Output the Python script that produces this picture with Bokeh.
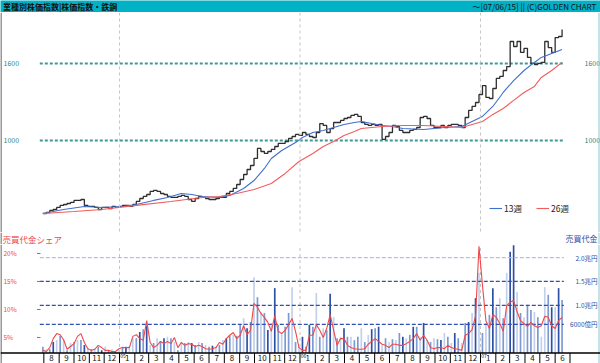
import pandas as pd
from bokeh.plotting import figure
from bokeh.layouts import column
from bokeh.models import Range1d, Span, Legend, LegendItem, ColumnDataSource
from bokeh.core.properties import value
from bokeh.embed import file_html
from bokeh.resources import INLINE

FONT = "Noto Sans CJK JP"

# ---------------- data ----------------
title_left = "業種別株価指数|株価指数・鉄鋼"
title_right = "〜[07/06/15] || (C)GOLDEN CHART"
share_title = "売買代金シェア"
turnover_title = "売買代金"

first_week = "2004-07-30"   # weekly closes (Fridays) up to 2007-06-15

price = [431, 439, 455, 462, 478, 494, 501, 509, 517, 533,
         533, 540, 494, 486, 486, 478, 462, 478, 478, 470,
         486, 478, 486, 494, 494, 486, 501, 525, 548, 564,
         579, 603, 611, 603, 587, 579, 564, 556, 556, 564,
         572, 564, 540, 525, 548, 564, 556, 548, 540, 540, 548,
         556, 556, 587, 603, 626, 657, 696, 735, 774, 805,
         860, 938, 914, 899, 914, 930, 953, 977, 977, 992,
         1016, 1031, 1047, 1039, 1062, 1047, 1031, 1023, 1062, 1132,
         1117, 1062, 1093, 1140, 1140, 1156, 1171, 1179, 1195, 1203,
         1187, 1140, 1125, 1117, 1125, 1117, 1125, 1008, 1031, 1062,
         1117, 1109, 1078, 1062, 1062, 1078, 1086, 1101, 1179, 1187,
         1171, 1117, 1101, 1101, 1117, 1101, 1117, 1125, 1125, 1117,
         1101, 1179, 1234, 1265, 1296, 1358, 1428, 1335, 1327, 1405,
         1483, 1499, 1545, 1576, 1771, 1732, 1771, 1686, 1717, 1647,
         1600, 1592, 1600, 1608, 1771, 1724, 1686, 1802, 1810, 1865]

ma13_week = [0, 6, 12, 17, 23, 27, 32, 36, 40, 43, 46, 51, 54, 58, 61, 64, 66, 69,
             73, 75, 78, 81, 84, 87, 90, 92, 95, 98, 101, 104, 110, 116, 121, 124,
             127, 130, 133, 136, 139, 142, 144, 147, 150]
ma13_val = [431, 462, 486, 478, 486, 501, 533, 556, 587, 579, 564, 556, 572, 626,
            688, 782, 860, 922, 984, 1023, 1062, 1078, 1101, 1125, 1140, 1148, 1132,
            1117, 1109, 1093, 1086, 1101, 1109, 1148, 1187, 1265, 1374, 1467, 1545,
            1608, 1647, 1678, 1709]

ma26_week = [0, 9, 17, 27, 37, 46, 51, 56, 61, 66, 70, 74, 78, 81, 84, 87, 90, 92,
             98, 104, 110, 116, 121, 124, 127, 130, 133, 136, 139, 142, 144, 147, 150]
ma26_val = [431, 447, 462, 494, 525, 556, 564, 587, 618, 665, 743, 836, 899, 953,
            992, 1039, 1070, 1093, 1109, 1117, 1117, 1109, 1101, 1125, 1148, 1203,
            1249, 1312, 1374, 1421, 1491, 1545, 1608]

turnover = [0.13, 0.08, 0.08, 0.23, 0.27, 0.36, 0.27, 0.06, 0.21, 0.23,
            0.27, 0.27, 0.17, 0.10, 0.08, 0.10, 0.13, 0.06, 0.13, 0.06,
            0.08, 0.02, 0.06, 0.13, 0.13, 0.15, 0.31, 0.31, 0.44, 0.50,
            0.57, 0.17, 0.21, 0.31, 0.25, 0.31, 0.34, 0.31, 0.23, 0.06,
            0.23, 0.21, 0.23, 0.21, 0.17, 0.23, 0.21, 0.17, 0.13, 0.15, 0.13,
            0.17, 0.27, 0.31, 0.36, 0.38, 0.36, 0.59, 0.73, 0.52, 0.65,
            1.59, 1.17, 0.86, 0.84, 0.48, 0.63, 1.36, 0.59, 0.42, 0.55,
            0.84, 1.38, 0.23, 0.13, 0.34, 0.13, 0.59, 0.55, 1.26, 0.34,
            0.52, 0.48, 1.24, 0.75, 0.31, 0.34, 0.52, 0.34, 0.34, 0.27,
            0.34, 0.52, 0.23, 0.38, 0.50, 0.52, 0.55, 0.17, 0.31, 0.23,
            0.29, 0.27, 0.42, 0.34, 0.31, 0.38, 0.55, 0.55, 0.34, 0.63,
            0.27, 0.23, 0.31, 0.29, 0.27, 0.42, 0.34, 0.21, 0.42, 0.31,
            0.21, 0.63, 0.65, 0.84, 1.15, 1.68, 0.42, 0.63, 0.80, 1.36,
            0.96, 1.15, 0.73, 1.68, 2.12, 2.26, 1.28, 0.84, 0.75, 1.01,
            0.90, 0.86, 0.75, 0.34, 1.38, 1.22, 0.96, 0.96, 1.36, 1.11]

share = [2.7, 2.5, 3.2, 4.8, 5.7, 5.5, 4.6, 2.9, 3.4, 3.9,
         5.2, 5.7, 4.1, 3.0, 2.7, 2.9, 3.6, 3.2, 2.7, 2.7,
         2.5, 2.5, 3.0, 3.2, 3.2, 3.2, 5.2, 5.5, 4.8, 4.5,
         8.0, 4.1, 3.2, 3.6, 4.3, 3.9, 4.3, 3.9, 5.0, 3.2,
         4.1, 3.6, 3.9, 3.8, 3.4, 3.6, 3.4, 3.0, 2.9, 3.0, 3.2,
         4.1, 3.8, 4.8, 5.4, 5.9, 4.8, 5.4, 7.1, 5.5, 6.3,
         11.1, 10.4, 9.3, 8.6, 7.7, 6.1, 8.9, 6.1, 5.7, 6.3,
         7.3, 8.4, 6.1, 3.2, 2.7, 2.7, 5.4, 5.4, 7.3, 6.3,
         5.0, 6.6, 9.1, 6.3, 3.6, 4.8, 4.8, 3.6, 3.2, 3.0,
         2.9, 2.9, 3.0, 3.8, 4.3, 4.8, 4.3, 3.8, 3.6, 3.2,
         3.8, 3.8, 3.6, 3.6, 3.9, 4.3, 4.8, 5.7, 4.5, 5.4,
         4.5, 3.2, 3.0, 3.2, 3.2, 3.0, 3.6, 3.2, 3.0, 2.9,
         2.7, 5.4, 5.7, 6.4, 8.8, 21.3, 14.3, 8.0, 6.6, 9.1,
         8.6, 7.5, 6.1, 10.7, 11.3, 11.6, 9.6, 8.0, 7.5, 7.0,
         7.7, 7.1, 6.8, 7.1, 8.8, 8.6, 7.1, 6.6, 8.0, 8.6]

bar_shade = ("MLMDLMLMLM" "LMDLMLMDLM" "LMLMDLLMDM" "DLMLMDLMLM" "LMLDMLMLMDL"
             "MLDMLMMLDM" "LMLMDLDMLM" "MLMLDMDMLM" "LMDLMLDMLM" "MLMLDMDLML"
             "MLMDLMDMLD" "LMLMDLMLDM" "LMDLDLMLMD" "MLMLDDLMLM" "MLMLLMDLDM")

price_levels = [1000, 1600]
price_level_labels = ["1000", "1600"]
share_ticks = [5, 10, 15, 20]
share_labels = ["5%", "10%", "15%", "20%"]
turnover_ticks = [0.6, 1.0, 1.5, 2.0]
turnover_labels = ["6000億円", "1.0兆円", "1.5兆円", "2.0兆円"]
year_starts = ["2005-01-01", "2006-01-01", "2007-01-01"]
year_tags = ["05", "06", "07"]

# ---------------- helpers ----------------
DAY = 86400000


def ms(t):
    return int(pd.Timestamp(t).value // 10**6)


# horizontal layout: canvas pixel <-> date (used only to place margin texts/rules)
ANCHOR_MS = ms("2005-01-01")
ANCHOR_PX = 119.0
PX_PER_DAY = 0.4945
W, H = 600, 363


def xdate(px):
    return ANCHOR_MS + (px - ANCHOR_PX) / PX_PER_DAY * DAY


x_range = Range1d(xdate(0), xdate(W))
PL, PR = xdate(39.3), xdate(563.3)     # plotting area edges

dates = pd.date_range(first_week, periods=len(price), freq="7D")
week0 = pd.Timestamp(first_week)
ma13_dates = [week0 + pd.Timedelta(days=7 * w) for w in ma13_week]
ma26_dates = [week0 + pd.Timedelta(days=7 * w) for w in ma26_week]
shade_map = {"L": "#C3D0EC", "M": "#7D99D2", "D": "#2E4FA6"}
bar_colors = [shade_map[c] for c in bar_shade]
year_ms = [ms(y) for y in year_starts]


def base_fig(height, xr, yr, bg="white"):
    f = figure(width=W, height=height, x_range=xr, y_range=yr,
               x_axis_location=None, y_axis_location=None, toolbar_location=None,
               output_backend="svg", min_border=0, outline_line_color=None,
               background_fill_color=bg, border_fill_color=bg)
    f.grid.grid_line_color = None
    return f


def borders(f):
    f.add_layout(Span(location=xdate(0.5), dimension="height",
                      line_color="#333333", line_width=1))
    f.add_layout(Span(location=xdate(598.5), dimension="height",
                      line_color="#8CC6CE", line_width=1))


# ---------------- title bar ----------------
tfig = base_fig(12, Range1d(0, 1), Range1d(0, 1), bg="#00B2C6")
tfig.text(x=[0.004], y=[0.5], text=[title_left], text_font=value(FONT),
          text_font_size="8px", text_baseline="middle", text_align="left",
          text_color="#101010", text_font_style="bold")
tfig.text(x=[0.993], y=[0.5], text=[title_right], text_font=value(FONT),
          text_font_size="8px", text_baseline="middle", text_align="right",
          text_color="#101010")

# ---------------- price panel ----------------
p1 = base_fig(220, x_range, Range1d(283, 1997))
borders(p1)
for ym in year_ms:
    p1.add_layout(Span(location=ym, dimension="height", line_color="#C4C4C4",
                       line_width=1, line_dash="3 3"))
p1.segment(x0=[PL] * 2, x1=[PR] * 2, y0=price_levels, y1=price_levels,
           line_color="#3F9797", line_width=2, line_dash="3 2")
p1.text(x=[xdate(3)] * 2, y=price_levels, text=price_level_labels,
        text_font=value(FONT), text_font_size="7px", text_baseline="middle",
        text_align="left", text_color="#2F8585")
p1.text(x=[xdate(584)] * 2, y=price_levels, text=price_level_labels,
        text_font=value(FONT), text_font_size="7px", text_baseline="middle",
        text_align="left", text_color="#2F8585")

src_p = ColumnDataSource(dict(x=dates, y=price))
p1.step("x", "y", source=src_p, mode="after", line_color="#2E2E2E", line_width=1.3)
r13 = p1.line(ma13_dates, ma13_val, line_color="#3F6FD0", line_width=1.1)
r26 = p1.line(ma26_dates, ma26_val, line_color="#F25C5C", line_width=1.1)

legend = Legend(items=[LegendItem(label="13週", renderers=[r13]),
                       LegendItem(label="26週", renderers=[r26])],
                orientation="horizontal", location=(489, 18),
                background_fill_alpha=0, border_line_color=None,
                label_text_font=FONT, label_text_font_size="8.5px",
                label_text_color="#222222",
                glyph_width=13, glyph_height=10, label_height=10,
                label_standoff=2, spacing=12, padding=0, margin=0)
p1.add_layout(legend)

# ---------------- sub-panel header ----------------
hfig = base_fig(12, Range1d(0, 1), Range1d(0, 1))
hfig.add_layout(Span(location=0.5 / W, dimension="height", line_color="#333333",
                     line_width=1))
hfig.add_layout(Span(location=598.5 / W, dimension="height", line_color="#8CC6CE",
                     line_width=1))
hfig.text(x=[2 / W], y=[0.5], text=[share_title], text_font=value(FONT),
          text_font_size="8.5px", text_baseline="middle", text_align="left",
          text_color="#F04848")
hfig.text(x=[597 / W], y=[0.5], text=[turnover_title], text_font=value(FONT),
          text_font_size="8px", text_baseline="middle", text_align="right",
          text_color="#2E50A6")

# ---------------- turnover panel (with month band) ----------------
Y_TOP, Y_BOT = 2.2746, -0.2201
p2 = base_fig(119, x_range, Range1d(Y_BOT, Y_TOP))
p2.extra_y_ranges = {"share": Range1d(0.357, 21.607)}
borders(p2)

p2.segment(x0=year_ms, y0=[0] * len(year_ms), x1=year_ms,
           y1=[Y_TOP] * len(year_ms), line_color="#C4C4C4", line_width=1,
           line_dash="3 3")

src_b = ColumnDataSource(dict(x=dates, top=turnover, color=bar_colors))
p2.vbar(x="x", top="top", bottom=0, width=3.4 * DAY, source=src_b,
        fill_color="color", line_color=None)

n_t = len(turnover_ticks)
p2.segment(x0=[PL] * (n_t - 1), x1=[PR] * (n_t - 1), y0=turnover_ticks[:-1],
           y1=turnover_ticks[:-1], line_color="#2E50B0", line_width=1.2,
           line_dash="4 2")
p2.segment(x0=[PL], x1=[PR], y0=turnover_ticks[-1:], y1=turnover_ticks[-1:],
           line_color="#AFC2E6", line_width=1.2, line_dash="4 2")

p2.line(dates, share, y_range_name="share", line_color="#F04848", line_width=1.1)

# left (share) scale labels and red tick marks
p2.text(x=[xdate(3)] * len(share_ticks), y=share_ticks, text=share_labels,
        y_range_name="share", text_font=value(FONT), text_font_size="6.5px",
        text_baseline="middle", text_align="left", text_color="#F04848")
p2.segment(x0=[xdate(36.5)] * len(share_ticks), x1=[xdate(40)] * len(share_ticks),
           y0=share_ticks, y1=share_ticks, y_range_name="share",
           line_color="#F04848", line_width=1)
# right (turnover) scale labels
p2.text(x=[xdate(597)] * n_t, y=turnover_ticks, text=turnover_labels,
        text_font=value(FONT), text_font_size="6.5px", text_baseline="middle",
        text_align="right", text_color="#2E50A6")

# month band below zero
month_starts = pd.date_range("2004-08-01", "2007-07-01", freq="MS")
mids = [a + (b - a) / 2 for a, b in zip(month_starts[:-1], month_starts[1:])]
ms_starts = [ms(m) for m in month_starts]
p2.segment(x0=ms_starts, y0=[0] * len(ms_starts), x1=ms_starts,
           y1=[Y_BOT] * len(ms_starts), line_color="black", line_width=1)
p2.add_layout(Span(location=0, dimension="width", line_color="black", line_width=1.5))
p2.text(x=[ms(m) for m in mids], y=[Y_BOT / 2] * len(mids),
        text=[str(m.month) for m in mids], text_font=value(FONT),
        text_font_size="8px", text_baseline="middle", text_align="center",
        text_color="#111111")
p2.text(x=[y + 1.5 * DAY for y in year_ms], y=[-0.015] * len(year_ms), text=year_tags,
        text_font=value(FONT), text_font_size="5px", text_baseline="top",
        text_align="left", text_color="#222222")

layout = column(tfig, p1, hfig, p2, spacing=0)
open("out.html", "w").write(file_html(layout, INLINE))
